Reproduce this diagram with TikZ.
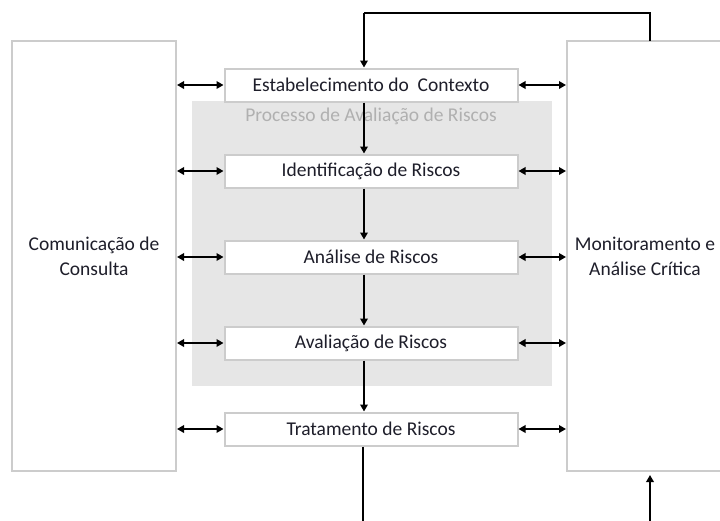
\documentclass[tikz,border=0pt]{standalone}
\usepackage{fontspec}
\setmainfont{Carlito}
\usetikzlibrary{arrows.meta}
\definecolor{bord}{HTML}{CCCCCC}
\definecolor{bg}{HTML}{E6E6E6}
\definecolor{lbl}{HTML}{B0B0B0}
\definecolor{txt}{HTML}{1E1E2A}
\begin{document}
\begin{tikzpicture}[x=1pt,y=-1pt,
  sidebox/.style={draw=bord,line width=2pt,fill=white,minimum width=164pt,minimum height=430pt,inner sep=0pt,align=center,text=txt,font=\fontsize{19.5}{25}\selectfont},
  stepbox/.style={draw=bord,line width=2pt,fill=white,minimum width=293pt,minimum height=33pt,inner sep=0pt,text=txt,font=\fontsize{19.5}{22}\selectfont},
  flow/.style={line width=2pt,-{Triangle[length=7pt,width=7.5pt]}},
  both/.style={line width=2pt,{Triangle[length=7pt,width=7.5pt]}-{Triangle[length=7pt,width=7.5pt]}},
  plain/.style={line width=2pt}]
\useasboundingbox (0,0) rectangle (720,520);
\begin{scope}
\clip (0,0) rectangle (720,520);
\fill[bg] (192,101) rectangle (552,386);
\node[lbl,font=\fontsize{19.5}{22}\selectfont] (plabel) at (371,116) {Processo de Avaliação de Riscos};
\node[sidebox] (left) at (94,256) {Comunicação de\\Consulta};
\node[sidebox,minimum width=156pt] (right) at (645,256) {Monitoramento e\\Análise Crítica};
\node[stepbox] (s1) at (371,85) {Estabelecimento do\ \ Contexto};
\node[stepbox] (s2) at (371,171) {Identificação de Riscos};
\node[stepbox] (s3) at (371,257) {Análise de Riscos};
\node[stepbox] (s4) at (371,343) {Avaliação de Riscos};
\node[stepbox] (s5) at (371,429) {Tratamento de Riscos};
\coordinate (rtop) at (650,41);
\coordinate (c1) at (650,13);
\coordinate (c2) at (364,13);
\coordinate (bot1) at (363,522);
\coordinate (bot2) at (650,522);
\coordinate (rbot) at (650,475);
\draw[plain] (rtop) -- (c1) -- (c2);
\draw[flow] (c2) -- (c2 |- s1.north);
\foreach \a/\b in {s1/s2,s2/s3,s3/s4,s4/s5}{
  \draw[flow] (\a.south -| c2) -- (\b.north -| c2);
}
\draw[plain] (s5.south -| bot1) -- (bot1);
\draw[flow] (bot2) -- (rbot);
\foreach \s in {s1,s2,s3,s4,s5}{
  \draw[both] (left.east |- \s.west) -- (\s.west);
  \draw[both] (\s.east) -- (right.west |- \s.east);
}
\end{scope}
\end{tikzpicture}
\end{document}
